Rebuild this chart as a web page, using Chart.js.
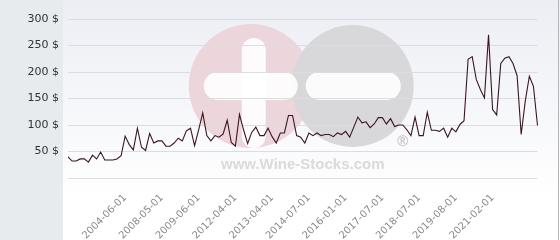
<!DOCTYPE html>
<html>
<head>
<meta charset="utf-8">
<script src="https://cdn.jsdelivr.net/npm/chart.js@4/dist/chart.umd.min.js"></script>
<style>
  html, body { margin: 0; padding: 0; background: #fff; }
  #chart { display: block; }
</style>
</head>
<body>
<canvas id="chart" width="560" height="240"></canvas>
<script>
// Price per bottle, one value per auction point
const prices = [
  40, 32, 32, 36, 36, 30, 43, 36, 49, 34,
  34, 34, 36, 42, 79, 63, 53, 94, 58, 52,
  84, 66, 70, 70, 60, 60, 66, 75, 70, 89,
  94, 61, 91, 123, 80, 70, 80, 77, 83, 109,
  67, 60, 120, 91, 65, 86, 96, 80, 80, 94,
  78, 66, 85, 85, 118, 118, 80, 77, 66, 85,
  80, 85, 80, 82, 82, 78, 85, 82, 88, 77,
  96, 115, 104, 106, 95, 102, 114, 114, 102, 112,
  97, 100, 100, 91, 80, 115, 80, 80, 124, 90,
  90, 88, 94, 77, 94, 87, 101, 108, 224, 229,
  186, 167, 151, 270, 129, 119, 216, 226, 229, 216,
  193, 82, 145, 192, 173, 99
];

// Dates shown on the x axis, every 9th point starting at point 14
const tickDates = [
  '2004-06-01', '2008-05-01', '2009-06-01', '2012-04-01', '2013-04-01',
  '2014-07-01', '2016-01-01', '2017-07-01', '2018-07-01', '2019-08-01',
  '2021-02-01'
];
const tickStart = 14;
const tickEvery = 9;

// Y axis tick values
const yTicks = [0, 50, 100, 150, 200, 250, 300];

const labels = prices.map((p, i) => {
  const k = (i - tickStart) / tickEvery;
  return (i >= tickStart && Number.isInteger(k) && tickDates[k]) ? tickDates[k] : '';
});

// Gray label panel, gradient background and the watermark logo
const backdrop = {
  id: 'backdrop',
  beforeDraw(chart) {
    const { ctx, chartArea: a, width, height } = chart;
    const panelRight = a.left - 5;
    ctx.save();
    ctx.fillStyle = '#e7ebee';
    ctx.fillRect(0, 0, panelRight, height);

    const g = ctx.createLinearGradient(0, 0, 0, 200);
    g.addColorStop(0, '#eceef4');
    g.addColorStop(1, '#ffffff');
    ctx.fillStyle = g;
    ctx.fillRect(panelRight, 0, width - panelRight, height);

    ctx.strokeStyle = '#b5b5b5';
    ctx.lineWidth = 1;
    ctx.beginPath();
    ctx.moveTo(width - 1.5, 0);
    ctx.lineTo(width - 1.5, height);
    ctx.stroke();

    // watermark
    const cx = (a.left + a.right) / 2;
    const cy = 86;
    ctx.fillStyle = '#edd5dc';
    ctx.beginPath(); ctx.arc(cx - 52, cy, 62, 0, Math.PI * 2); ctx.fill();
    ctx.fillStyle = '#d8d8da';
    ctx.beginPath(); ctx.arc(cx + 50, cy, 61, 0, Math.PI * 2); ctx.fill();

    ctx.fillStyle = 'rgba(255,255,255,0.9)';
    const bar = (x, y, w, h, r) => {
      ctx.beginPath();
      ctx.roundRect(x, y, w, h, r);
      ctx.fill();
    };
    bar(cx - 61, cy - 48, 24, 110, 12);  // plus vertical
    bar(cx - 99, cy - 14, 94, 28, 14);   // plus horizontal
    bar(cx + 3, cy - 14, 95, 28, 14);    // minus

    ctx.fillStyle = '#dadada';
    ctx.font = 'bold 15px "Liberation Sans"';
    ctx.textAlign = 'center';
    ctx.textBaseline = 'alphabetic';
    ctx.fillText('www.Wine-Stocks.com', cx, 169);
    ctx.font = 'bold 15px "DejaVu Sans"';
    ctx.fillStyle = '#cfcfcf';
    ctx.fillText('\u00AE', cx + 100, 146);
    ctx.restore();
  }
};

new Chart(document.getElementById('chart'), {
  type: 'line',
  data: {
    labels: labels,
    datasets: [{
      data: prices,
      borderColor: '#3b1522',
      borderWidth: 1.1,
      pointRadius: 0,
      tension: 0,
      fill: false
    }]
  },
  options: {
    responsive: false,
    animation: false,
    devicePixelRatio: 1,
    layout: { padding: { top: 19, right: 5, left: 0, bottom: 0 } },
    plugins: {
      legend: { display: false },
      tooltip: { enabled: false }
    },
    scales: {
      x: {
        grid: { display: false, drawTicks: false },
        border: { display: false },
        afterFit(scale) { scale.height = 62; },
        ticks: {
          autoSkip: false,
          minRotation: 45,
          maxRotation: 45,
          padding: 14,
          color: '#8a8a8a',
          font: { family: 'DejaVu Sans', size: 10 }
        }
      },
      y: {
        min: 0,
        max: 300,
        afterFit(scale) { scale.width = 68; },
        afterBuildTicks(scale) { scale.ticks = yTicks.map(v => ({ value: v })); },
        grid: { color: '#dcdde2', drawTicks: false },
        border: { display: false },
        ticks: {
          padding: 9,
          color: '#333',
          font: { family: 'DejaVu Sans', size: 11 },
          callback: v => v === 0 ? '' : v + ' $'
        }
      }
    }
  },
  plugins: [backdrop]
});
</script>
</body>
</html>
